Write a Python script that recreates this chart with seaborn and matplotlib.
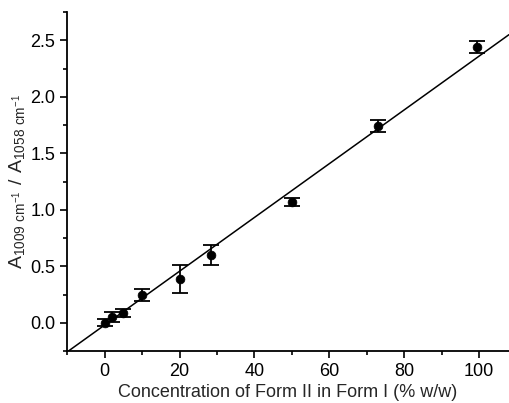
import numpy as np
import pandas as pd
import matplotlib
matplotlib.use("Agg")
import matplotlib.pyplot as plt
from matplotlib.ticker import MultipleLocator
import seaborn as sns

# values
conc = [0, 2, 5, 10, 20, 28.3, 50, 73, 99.4]
ratio = [0.0, 0.05, 0.09, 0.245, 0.385, 0.60, 1.07, 1.74, 2.44]
err = [0.03, 0.045, 0.035, 0.05, 0.125, 0.09, 0.035, 0.055, 0.05]

# fitted straight line
slope = 0.0238
intercept = -0.02

df = pd.DataFrame({"conc": conc, "ratio": ratio, "err": err})

sns.set_style("ticks")
plt.rcParams['font.family'] = ['Liberation Sans', 'DejaVu Sans']
plt.rcParams['mathtext.fontset'] = 'custom'
plt.rcParams['mathtext.rm'] = 'Liberation Sans'

fig = plt.figure(figsize=(5.09, 4.03), dpi=100)
ax = fig.add_axes([0.132, 0.129, 0.868, 0.841])

xlim = (-10, 108)
fit = pd.DataFrame({"x": list(xlim)})
fit["y"] = slope * fit["x"] + intercept
sns.lineplot(x="x", y="y", data=fit, color='black', linewidth=1.1, ax=ax)

ax.errorbar(df["conc"], df["ratio"], yerr=df["err"], fmt='none',
            ecolor='black', elinewidth=1.3, capsize=5.5, capthick=1.3)
sns.scatterplot(x="conc", y="ratio", data=df, color='black', s=40,
                edgecolor='black', zorder=5, ax=ax)

ax.set_xlim(*xlim)
ax.set_ylim(-0.25, 2.75)
ax.xaxis.set_major_locator(MultipleLocator(20))
ax.xaxis.set_minor_locator(MultipleLocator(10))
ax.yaxis.set_major_locator(MultipleLocator(0.5))
ax.yaxis.set_minor_locator(MultipleLocator(0.25))
ax.yaxis.set_major_formatter(matplotlib.ticker.FormatStrFormatter('%.1f'))

ax.tick_params(which='major', direction='out', length=5, width=1.2,
               labelsize=13, color='black', labelcolor='black')
ax.tick_params(which='minor', direction='out', length=3, width=1.2, color='black')

for s in ['left', 'bottom']:
    ax.spines[s].set_linewidth(1.3)
    ax.spines[s].set_color('black')
sns.despine(ax=ax)

ax.set_xlabel("Concentration of Form II in Form I (% w/w)", fontsize=13, labelpad=3)
ax.set_ylabel(r"$\mathregular{A_{1009\ cm^{-1}}\ /\ A_{1058\ cm^{-1}}}$",
              fontsize=14, labelpad=2)

fig.savefig("out.png", dpi=100)
